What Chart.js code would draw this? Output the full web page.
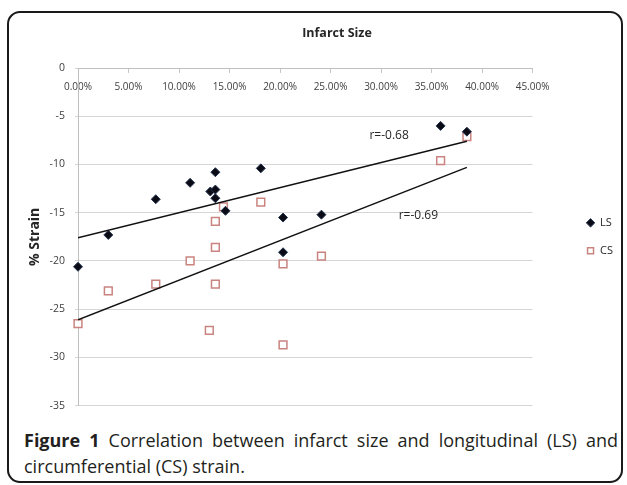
<!DOCTYPE html>
<html>
<head>
<meta charset="utf-8">
<script src="https://cdn.jsdelivr.net/npm/chart.js@4.4.0/dist/chart.umd.min.js"></script>
<style>
  html, body { margin: 0; padding: 0; background: #fff; }
  body { width: 627px; height: 485px; position: relative; overflow: hidden; }
  .frame {
    position: absolute; left: 7px; top: 11px; width: 612px; height: 468px;
    border: 2px solid #1a1a1a; border-radius: 13px;
  }
  #chart { position: absolute; left: 0; top: 0; }
  .caption {
    position: absolute; left: 24px; top: 427px; width: 594px;
    font-family: "Open Sans", sans-serif; font-size: 18px; line-height: 26px; color: #231f20;
  }
  .caption .l1 { text-align: justify; text-align-last: justify; }
  .caption b { font-weight: 700; }
</style>
</head>
<body>
<div class="frame"></div>
<canvas id="chart" width="627" height="422"></canvas>
<div class="caption">
  <div class="l1"><b>Figure 1</b> Correlation between infarct size and longitudinal (LS) and</div>
  <div>circumferential (CS) strain.</div>
</div>
<script>
// infarct size (%) and strain (%)
const lsInfarct = [0.0, 3.0, 7.7, 11.1, 13.1, 13.6, 13.6, 13.6, 14.6, 18.1, 20.3, 20.3, 24.1, 35.9, 38.5];
const lsStrain = [-20.6, -17.3, -13.6, -11.9, -12.8, -10.8, -12.6, -13.5, -14.8, -10.4, -15.5, -19.1, -15.2, -6.0, -6.6];
const csInfarct = [0.0, 3.0, 7.7, 11.1, 13.0, 13.6, 13.6, 13.6, 14.4, 18.1, 20.3, 20.3, 24.1, 35.9, 38.5];
const csStrain = [-26.5, -23.1, -22.4, -20.0, -27.2, -15.9, -18.6, -22.4, -14.4, -13.9, -20.3, -28.7, -19.5, -9.6, -7.1];

// trend line end points
const lsTrendX = [0, 38.5];
const lsTrendY = [-17.6, -7.6];
const csTrendX = [0, 38.5];
const csTrendY = [-26.1, -10.3];

const seriesNames = ["LS", "CS"];
const rValues = ["r=-0.68", "r=-0.69"];

const toPoints = (xs, ys) => xs.map((x, i) => ({ x: x, y: ys[i] }));

Chart.defaults.font.family = "'Open Sans', sans-serif";
Chart.defaults.color = "#404040";

// where the r labels sit, in data units
const rNotes = [
  { text: rValues[0], x: 30.8, y: -7.0 },
  { text: rValues[1], x: 33.7, y: -15.3 },
];

const figureText = {
  id: "figureText",
  afterDatasetsDraw(chart) {
    const { ctx, scales: { x, y } } = chart;
    ctx.save();
    ctx.fillStyle = "#262626";
    ctx.textAlign = "center";
    ctx.textBaseline = "middle";
    ctx.font = "bold 12.5px 'Open Sans'";
    ctx.fillText("Infarct Size", 337, 33);
    ctx.font = "12px 'Open Sans'";
    rNotes.forEach((n) => {
      ctx.fillText(n.text, x.getPixelForValue(n.x), y.getPixelForValue(n.y));
    });
    ctx.restore();
  },
};

new Chart(document.getElementById("chart"), {
  type: "scatter",
  data: {
    datasets: [
      {
        label: seriesNames[0],
        data: toPoints(lsInfarct, lsStrain),
        clip: false,
        pointStyle: "rectRot",
        pointRadius: 4.5,
        pointBackgroundColor: "#0b0b16",
        pointBorderColor: "#24344f",
        pointBorderWidth: 1,
      },
      {
        label: seriesNames[1],
        data: toPoints(csInfarct, csStrain),
        clip: false,
        pointStyle: "rect",
        pointRadius: 5.5,
        pointBackgroundColor: "#ffffff",
        pointBorderColor: "#c98480",
        pointBorderWidth: 1.5,
      },
      {
        label: "trendLS",
        data: toPoints(lsTrendX, lsTrendY),
        showLine: true,
        borderColor: "#111111",
        borderWidth: 1.5,
        pointRadius: 0,
        order: -1,
      },
      {
        label: "trendCS",
        data: toPoints(csTrendX, csTrendY),
        showLine: true,
        borderColor: "#111111",
        borderWidth: 1.5,
        pointRadius: 0,
        order: -1,
      },
    ],
  },
  options: {
    responsive: false,
    animation: false,
    layout: { padding: { left: 18, top: 68, right: 4, bottom: 11 } },
    scales: {
      x: {
        type: "linear",
        position: { y: 0 },
        min: 0,
        max: 45,
        ticks: {
          stepSize: 5,
          padding: 9,
          font: { size: 10 },
          callback: (v) => v.toFixed(2) + "%",
        },
        grid: { drawOnChartArea: false, tickLength: 4, color: "#c8c8c8" },
        border: { color: "#bfbfbf" },
      },
      y: {
        min: -35,
        max: 0,
        ticks: { stepSize: 5, padding: 10, font: { size: 10.5 } },
        grid: { color: "#d6d6d6", tickLength: 3 },
        border: { color: "#bfbfbf" },
        title: {
          display: true,
          text: "% Strain",
          color: "#262626",
          font: { size: 14, weight: "bold" },
          padding: { top: 9, bottom: 0 },
        },
        afterFit: (scale) => {
          scale.width = 60;
        },
      },
      // empty spacer between plot and legend
      gap: {
        position: "right",
        min: -35,
        max: 0,
        grid: { display: false },
        ticks: { display: false },
        border: { display: false },
        afterFit: (scale) => {
          scale.width = 37;
        },
      },
    },
    plugins: {
      title: { display: false },
      tooltip: { enabled: false },
      legend: {
        position: "right",
        align: "center",
        fullSize: false,
        labels: {
          usePointStyle: true,
          boxWidth: 8,
          boxHeight: 6,
          padding: 17,
          color: "#262626",
          font: { size: 11 },
          filter: (item) => seriesNames.includes(item.text),
        },
      },
    },
  },
  plugins: [figureText],
});
</script>
</body>
</html>
